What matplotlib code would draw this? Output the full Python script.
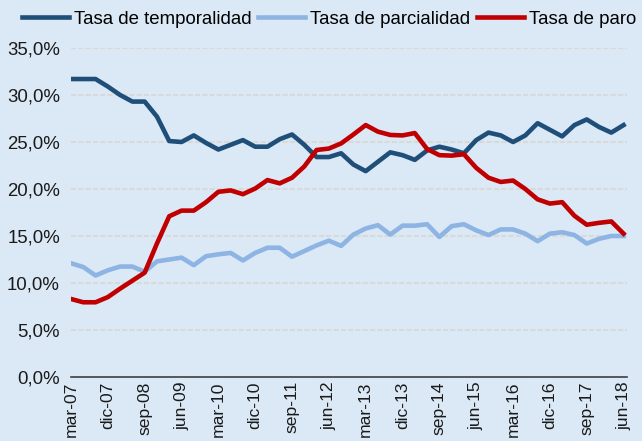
from matplotlib import pyplot as plt
import numpy as np

# quarters mar-07 .. jun-18
meses = ["mar", "jun", "sep", "dic"]
trimestres = [f"{m}-{a:02d}" for a in range(7, 19) for m in meses][:46]

temporalidad = [31.7, 31.7, 31.7, 30.9, 30.0, 29.3, 29.3, 27.7, 25.1, 25.0,
                25.7, 24.9, 24.2, 24.7, 25.2, 24.5, 24.5, 25.3, 25.8, 24.7,
                23.4, 23.4, 23.8, 22.6, 21.9, 22.9, 23.9, 23.6, 23.1, 24.1,
                24.5, 24.2, 23.8, 25.2, 26.0, 25.7, 25.0, 25.7, 27.0, 26.3,
                25.6, 26.8, 27.4, 26.6, 26.0, 26.8]
parcialidad = [12.1, 11.7, 10.8, 11.35, 11.75, 11.75, 11.2, 12.3, 12.5, 12.7,
               11.9, 12.85, 13.05, 13.2, 12.4, 13.2, 13.75, 13.75, 12.8, 13.4,
               14.0, 14.5, 13.95, 15.15, 15.8, 16.15, 15.15, 16.1, 16.1, 16.25,
               14.9, 16.05, 16.25, 15.6, 15.1, 15.7, 15.7, 15.25, 14.45, 15.25,
               15.4, 15.1, 14.2, 14.7, 15.0, 15.0]
paro = [8.3, 7.95, 7.95, 8.5, 9.4, 10.25, 11.1, 14.2, 17.1, 17.7,
        17.7, 18.6, 19.7, 19.85, 19.45, 20.05, 20.95, 20.6, 21.2, 22.4,
        24.15, 24.3, 24.85, 25.8, 26.8, 26.1, 25.75, 25.7, 25.95, 24.25,
        23.6, 23.55, 23.7, 22.25, 21.2, 20.75, 20.9, 20.0, 18.9, 18.45,
        18.6, 17.15, 16.2, 16.4, 16.55, 15.25]

plt.rcParams['font.family'] = ['Liberation Sans', 'DejaVu Sans']
fs = 13.4
bg = "#DBE9F6"

fig = plt.figure(figsize=(6.42, 4.41), dpi=100, facecolor=bg)
ax = fig.add_axes([71/642, 1 - 377/441, 556/642, 329/441], facecolor=bg)

x = np.arange(len(trimestres))
lw = 3.3
ax.plot(x, temporalidad, color="#1F4E79", lw=lw, label="Tasa de temporalidad")
ax.plot(x, parcialidad, color="#8DB4E2", lw=lw, label="Tasa de parcialidad")
ax.plot(x, paro, color="#C00000", lw=lw, label="Tasa de paro")

ax.set_xlim(0, 45.28)
ax.set_ylim(0, 35)
yt = np.arange(0, 36, 5)
ax.set_yticks(yt)
ax.set_yticklabels([f"{v:.1f}%".replace(".", ",") for v in yt], fontsize=fs)
ax.set_xticks(x[::3])
ax.set_xticklabels(trimestres[::3], rotation=90, fontsize=12.6, va="top")
ax.tick_params(axis="both", length=0, colors="#1a1a1a")
ax.tick_params(axis="y", pad=8)
ax.tick_params(axis="x", pad=3)

for s in ["left", "right", "top"]:
    ax.spines[s].set_visible(False)
ax.spines["bottom"].set_color("#404040")
ax.spines["bottom"].set_linewidth(1.2)
ax.spines["bottom"].set_zorder(5)

ax.yaxis.grid(True, color="#D9D9D9", lw=1.5, linestyle=(0, (2.5, 1)))
ax.set_axisbelow(True)

fig.legend(loc="center left", bbox_to_anchor=(22/642, 1 - 19/441), ncol=3,
           frameon=False, fontsize=fs, handlelength=2.5, handletextpad=0.3,
           columnspacing=0.35, borderpad=0, borderaxespad=0)

fig.savefig("out.png", dpi=100, facecolor=bg)
